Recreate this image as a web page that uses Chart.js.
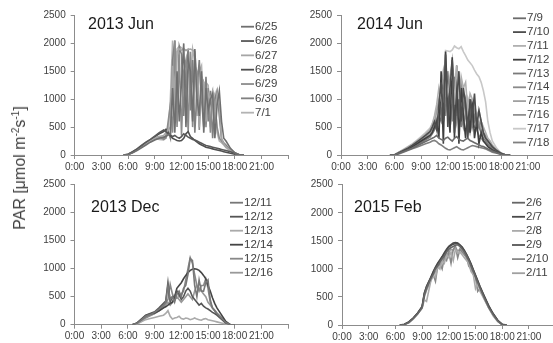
<!DOCTYPE html>
<html>
<head>
<meta charset="utf-8">
<script src="https://cdn.jsdelivr.net/npm/chart.js"></script>
<style>
html, body { margin: 0; padding: 0; background: #fff; overflow: hidden; width: 553px; height: 343px; }
canvas { position: absolute; }
#ylab {
    position: absolute; left: 20px; top: 168px;
    transform: translate(-50%, -50%) rotate(-90deg);
    white-space: nowrap; font: 16px "Liberation Sans", sans-serif; color: #404040;
}
#ylab sup { font-size: 10px; vertical-align: super; line-height: 0; }
</style>
</head>
<body>
<canvas id="c1" width="300" height="172" style="left:0;top:0"></canvas>
<canvas id="c2" width="260" height="172" style="left:300px;top:0"></canvas>
<canvas id="c3" width="300" height="173" style="left:0;top:170px"></canvas>
<canvas id="c4" width="260" height="173" style="left:300px;top:170px"></canvas>
<div id="ylab">PAR [μmol m<sup>-2</sup>s<sup>-1</sup>]</div>
<script>
// time of day in hours
const timesJun = [5.5, 6, 6.5, 7, 7.5, 8, 8.5, 9, 9.5, 10,
    10.25, 10.5, 10.75, 11, 11.25, 11.5, 11.75, 12, 12.25, 12.5, 12.75, 13, 13.25, 13.5,
    13.75, 14, 14.25, 14.5, 14.75, 15, 15.25, 15.5, 15.75, 16, 16.25, 16.5, 16.75, 17,
    17.5, 18, 18.5, 19];
const timesDec = [6.5, 7, 7.5, 8, 8.5, 9, 9.5, 10,
    10.25, 10.5, 10.75, 11, 11.25, 11.5, 11.75, 12, 12.25, 12.5, 12.75, 13, 13.25, 13.5,
    13.75, 14, 14.25, 14.5, 14.75, 15, 15.25, 15.5, 15.75, 16,
    16.5, 17, 17.5, 18];
const timesFeb = [6.5, 7, 7.5, 8, 8.5, 9, 9.25, 9.5,
    10, 10.25, 10.5, 10.75, 11, 11.25, 11.5, 11.75, 12, 12.25, 12.5, 12.75, 13, 13.25,
    13.5, 13.75, 14, 14.25, 14.5, 14.75, 15, 15.25, 15.5,
    16, 16.5, 17, 17.5, 18, 18.5];

const xTicks = [0, 3, 6, 9, 12, 15, 18, 21, 24];
const yTicks = [0, 500, 1000, 1500, 2000, 2500];

// 2013 Jun
const jun13Dates = ["6/25", "6/26", "6/27", "6/28", "6/29", "6/30", "7/1"];
const jun13Colors = ["#6f6f6f", "#595959", "#a6a6a6", "#4f4f4f", "#8c8c8c", "#808080", "#b3b3b3"];
const d0625 = [0, 8, 40, 80, 130, 180, 230, 270, 300, 320,
    330, 360, 380, 1200, 400, 1500, 600, 1300, 2000, 500, 1700, 1500, 600, 1900,
    1000, 700, 1500, 400, 1200, 800, 1000, 1100, 300, 900, 1150, 600, 300, 250,
    120, 40, 0, 0];
const d0626 = [0, 15, 60, 110, 170, 230, 280, 340, 400, 450,
    420, 380, 360, 330, 350, 320, 300, 330, 380, 350, 320, 300, 280, 270,
    250, 230, 210, 190, 170, 160, 150, 140, 130, 120, 110, 100, 90, 80,
    60, 30, 5, 0];
const d0627 = [0, 10, 40, 90, 140, 200, 250, 300, 330, 350,
    400, 450, 500, 1600, 700, 1850, 1900, 1880, 1900, 1870, 1890, 1900, 1880, 1850,
    1200, 500, 1400, 1300, 600, 1100, 1000, 1150, 600, 1100, 900, 300, 200, 150,
    80, 30, 0, 0];
const d0628 = [0, 10, 50, 100, 150, 210, 260, 330, 380, 420,
    460, 400, 350, 300, 280, 260, 250, 260, 300, 380, 420, 330, 300, 260,
    230, 200, 180, 160, 140, 130, 120, 110, 100, 90, 80, 70, 60, 50,
    30, 15, 0, 0];
const d0629 = [0, 15, 50, 100, 160, 220, 270, 310, 330, 280,
    300, 600, 900, 400, 2050, 500, 1800, 350, 1500, 1700, 400, 1850, 500, 1600,
    1500, 450, 1400, 1300, 500, 1200, 400, 1100, 900, 500, 300, 250, 200, 150,
    100, 40, 5, 0];
const d0630 = [0, 10, 45, 95, 150, 200, 240, 280, 320, 300,
    350, 420, 300, 1700, 2050, 600, 1950, 1800, 700, 1500, 1900, 800, 1700, 400,
    1200, 1700, 1000, 500, 1400, 600, 1150, 300, 1000, 1150, 700, 280, 220, 180,
    90, 30, 0, 0];
const d0701 = [0, 12, 55, 105, 165, 215, 265, 300, 280, 270,
    320, 380, 1000, 2050, 700, 1900, 1950, 1920, 1900, 1880, 1900, 1200, 1900, 1700,
    700, 1500, 1600, 800, 1300, 1250, 500, 1000, 1100, 400, 250, 220, 180, 130,
    70, 20, 0, 0];

// 2014 Jun
const jun14Dates = ["7/9", "7/10", "7/11", "7/12", "7/13", "7/14", "7/15", "7/16", "7/17", "7/18"];
const jun14Colors = ["#6b6b6b", "#4d4d4d", "#b0b0b0", "#3f3f3f", "#7a7a7a", "#8a8a8a", "#a0a0a0", "#909090", "#c8c8c8", "#7f7f7f"];
const d0709 = [0, 0, 30, 60, 90, 120, 160, 200, 240, 280,
    300, 320, 350, 300, 280, 260, 300, 320, 280, 250, 300, 330, 280, 260,
    250, 280, 300, 260, 240, 220, 200, 180, 160, 150, 130, 110, 90, 70,
    40, 15, 0, 0];
const d0710 = [0, 0, 40, 80, 120, 170, 230, 290, 350, 420,
    500, 600, 450, 900, 1300, 600, 1800, 500, 1200, 1700, 400, 1000, 1500, 600,
    1200, 900, 300, 1000, 700, 1100, 500, 800, 600, 400, 300, 250, 200, 150,
    80, 30, 0, 0];
const d0711 = [0, 0, 50, 90, 140, 190, 250, 310, 380, 460,
    550, 700, 900, 1200, 1000, 800, 1400, 1100, 1300, 1500, 900, 1600, 1000, 1400,
    1200, 1300, 800, 1100, 1000, 900, 700, 800, 600, 500, 400, 300, 250, 180,
    90, 30, 0, 0];
const d0712 = [0, 0, 35, 70, 110, 150, 200, 250, 300, 350,
    400, 500, 600, 300, 1500, 200, 1850, 900, 400, 1750, 300, 1600, 200, 1200,
    700, 300, 900, 400, 1000, 300, 600, 200, 400, 250, 200, 150, 120, 90,
    50, 20, 0, 0];
const d0713 = [0, 0, 30, 70, 100, 140, 180, 220, 270, 320,
    380, 450, 550, 700, 600, 1000, 800, 1200, 600, 900, 1400, 700, 1100, 500,
    800, 1000, 600, 900, 500, 700, 600, 500, 400, 300, 250, 200, 150, 110,
    60, 20, 0, 0];
const d0714 = [0, 0, 45, 85, 130, 180, 240, 300, 360, 420,
    480, 560, 650, 500, 1100, 1300, 700, 1500, 1000, 600, 1300, 1100, 800, 1200,
    900, 1000, 700, 800, 900, 600, 700, 500, 600, 400, 350, 280, 200, 140,
    70, 25, 0, 0];
const d0715 = [0, 0, 40, 80, 120, 160, 210, 260, 320, 390,
    450, 520, 800, 1000, 1200, 1500, 1100, 900, 1400, 1700, 1200, 800, 1000, 1300,
    1100, 700, 1000, 800, 600, 800, 500, 600, 450, 350, 300, 250, 200, 150,
    80, 30, 0, 0];
const d0716 = [0, 0, 35, 75, 110, 150, 190, 240, 290, 350,
    420, 480, 550, 650, 800, 600, 1000, 1200, 500, 800, 1100, 600, 900, 700,
    500, 800, 600, 400, 600, 500, 450, 350, 300, 250, 220, 180, 140, 100,
    50, 20, 0, 0];
const d0717 = [0, 0, 50, 100, 150, 200, 260, 330, 400, 480,
    560, 650, 800, 900, 1000, 1100, 1870, 1860, 1850, 1880, 1950, 1920, 1900, 1940,
    1850, 1780, 1700, 1650, 1600, 1520, 1450, 1400, 1300, 1150, 950, 600, 400, 250,
    120, 30, 0, 0];
const d0718 = [0, 0, 20, 50, 80, 110, 140, 170, 200, 230,
    250, 260, 240, 200, 180, 150, 120, 100, 90, 110, 130, 150, 120, 100,
    90, 110, 130, 150, 170, 160, 150, 140, 130, 120, 110, 90, 70, 50,
    30, 10, 0, 0];

// 2013 Dec
const dec13Dates = ["12/11", "12/12", "12/13", "12/14", "12/15", "12/16"];
const dec13Colors = ["#777777", "#555555", "#aaaaaa", "#444444", "#888888", "#999999"];
const d1211 = [0, 20, 80, 150, 180, 220, 280, 350,
    400, 700, 450, 500, 400, 550, 600, 500, 650, 700, 900, 1180, 1150, 700,
    500, 800, 600, 600, 750, 800, 450, 300, 250, 200,
    120, 40, 0, 0];
const d1212 = [0, 30, 100, 170, 200, 230, 300, 380,
    420, 750, 400, 500, 500, 600, 550, 450, 500, 600, 650, 600, 500, 450,
    400, 350, 380, 330, 300, 280, 250, 220, 200, 170,
    100, 30, 0, 0];
const d1213 = [0, 10, 50, 90, 110, 130, 150, 170,
    200, 250, 150, 100, 120, 130, 150, 110, 100, 120, 110, 90, 100, 120,
    100, 90, 80, 100, 110, 90, 80, 70, 60, 50,
    30, 10, 0, 0];
const d1214 = [0, 25, 90, 160, 190, 210, 250, 300,
    320, 350, 380, 400, 500, 650, 700, 750, 820, 880, 930, 970, 990, 1000,
    990, 970, 930, 880, 820, 700, 600, 480, 380, 300,
    180, 60, 0, 0];
const d1215 = [0, 20, 70, 130, 170, 200, 260, 330,
    380, 450, 720, 550, 450, 600, 500, 550, 600, 800, 1000, 1200, 1100, 900,
    700, 600, 700, 700, 820, 650, 400, 300, 260, 210,
    130, 40, 0, 0];
const d1216 = [0, 15, 60, 120, 160, 200, 250, 300,
    350, 400, 350, 400, 450, 500, 450, 400, 450, 500, 550, 500, 450, 600,
    700, 650, 600, 550, 500, 400, 350, 300, 250, 200,
    120, 35, 0, 0];

// 2015 Feb
const feb15Dates = ["2/6", "2/7", "2/8", "2/9", "2/10", "2/11"];
const feb15Colors = ["#666666", "#4a4a4a", "#aaaaaa", "#555555", "#888888", "#a0a0a0"];
const d0206 = [0, 10, 45, 115, 200, 310, 540, 660,
    830, 900, 1000, 1050, 1120, 1180, 1230, 1300, 1350, 1380, 1400, 1420, 1430, 1400,
    1350, 1300, 1230, 1150, 1050, 960, 860, 760, 660,
    480, 310, 180, 70, 5, 0];
const d0207 = [0, 12, 55, 125, 215, 330, 570, 690,
    860, 950, 1030, 1100, 1160, 1220, 1290, 1350, 1400, 1430, 1460, 1470, 1460, 1430,
    1390, 1330, 1260, 1180, 1090, 990, 890, 790, 690,
    510, 340, 195, 85, 12, 0];
const d0208 = [0, 8, 45, 110, 200, 300, 450, 420,
    800, 880, 850, 1050, 1000, 1150, 1100, 1250, 1200, 1300, 1150, 1350, 1280, 1300,
    1250, 1200, 1150, 1100, 950, 900, 650, 750, 600,
    450, 300, 170, 70, 5, 0];
const d0209 = [0, 10, 50, 120, 210, 320, 560, 680,
    850, 940, 1020, 1090, 1150, 1210, 1270, 1330, 1390, 1420, 1440, 1450, 1450, 1420,
    1380, 1320, 1250, 1170, 1080, 980, 880, 780, 680,
    500, 330, 190, 80, 10, 0];
const d0210 = [0, 10, 50, 115, 205, 315, 520, 640,
    820, 900, 780, 1050, 1100, 1000, 1200, 1150, 1300, 1100, 1350, 1400, 1200, 1350,
    1300, 1250, 1200, 1050, 1000, 900, 850, 600, 650,
    470, 310, 200, 75, 8, 0];
const d0211 = [0, 5, 40, 105, 195, 300, 500, 620,
    800, 880, 950, 1000, 1080, 1150, 1200, 1250, 1300, 1350, 1330, 1380, 1320, 1350,
    1300, 1280, 1200, 1120, 1040, 950, 840, 740, 650,
    470, 300, 160, 60, 5, 0];

const FONT = '"Liberation Sans", sans-serif';
const AXIS_GRAY = "#8c8c8c";
const TEXT_GRAY = "#404040";

// draws the panel title and the little legend inside the plot
const panelDecor = {
    id: 'panelDecor',
    afterDatasetsDraw(chart, args, o) {
        let ctx = chart.ctx;
        ctx.save();
        ctx.textBaseline = 'middle';
        ctx.fillStyle = "#1a1a1a";
        ctx.font = '16px ' + FONT;
        ctx.fillText(o.title, o.titleX, o.titleY);
        ctx.font = '11.5px ' + FONT;
        chart.data.datasets.forEach((ds, i) => {
            let y = o.legY + i * o.legStep;
            ctx.strokeStyle = ds.borderColor;
            ctx.lineWidth = 1.8;
            ctx.beginPath();
            ctx.moveTo(o.legX, y);
            ctx.lineTo(o.legX + 13, y);
            ctx.stroke();
            ctx.fillStyle = TEXT_GRAY;
            ctx.fillText(ds.label, o.legX + 14, y);
        });
        ctx.restore();
    }
};

function makePanel(id, times, dates, colors, series, cfg) {
    let datasets = series.map((vals, i) => ({
        label: dates[i],
        borderColor: colors[i],
        borderWidth: 1.6,
        pointRadius: 0,
        fill: false,
        tension: 0,
        data: vals.map((v, j) => ({ x: times[j], y: v }))
    }));
    let tickFont = { family: FONT, size: 10 };
    return new Chart(document.getElementById(id), {
        type: 'line',
        data: { datasets: datasets },
        plugins: [panelDecor],
        options: {
            responsive: false,
            animation: false,
            devicePixelRatio: 1,
            layout: { padding: { left: 0, top: cfg.top, right: cfg.right, bottom: 0 } },
            plugins: {
                legend: { display: false },
                tooltip: { enabled: false },
                panelDecor: cfg.decor
            },
            scales: {
                x: {
                    type: 'linear', min: 0, max: 24,
                    afterBuildTicks: s => { s.ticks = xTicks.map(v => ({ value: v })); },
                    afterFit: s => { s.height = cfg.xH; },
                    border: { display: true, color: AXIS_GRAY, width: 1 },
                    grid: { display: true, drawOnChartArea: false, drawTicks: true, tickLength: 4, color: AXIS_GRAY },
                    ticks: {
                        autoSkip: false, maxRotation: 0, minRotation: 0, padding: 2,
                        color: TEXT_GRAY, font: tickFont,
                        callback: v => v === 24 ? '' : v + ':00'
                    }
                },
                y: {
                    min: 0, max: 2500,
                    afterBuildTicks: s => { s.ticks = yTicks.map(v => ({ value: v })); },
                    afterFit: s => { s.width = cfg.yW; },
                    border: { display: true, color: AXIS_GRAY, width: 1 },
                    grid: { display: true, drawOnChartArea: false, drawTicks: true, tickLength: 4, color: AXIS_GRAY },
                    ticks: {
                        padding: 5, color: TEXT_GRAY, font: tickFont,
                        callback: v => String(v)
                    }
                }
            }
        }
    });
}

makePanel('c1', timesJun, jun13Dates, jun13Colors,
    [d0625, d0626, d0627, d0628, d0629, d0630, d0701],
    { top: 15.5, right: 11.7, xH: 17, yW: 74.7,
      decor: { title: "2013 Jun", titleX: 88, titleY: 25, legX: 241, legY: 26.7, legStep: 14.33 } });

makePanel('c2', timesJun, jun14Dates, jun14Colors,
    [d0709, d0710, d0711, d0712, d0713, d0714, d0715, d0716, d0717, d0718],
    { top: 15.3, right: 5.4, xH: 17, yW: 41,
      decor: { title: "2014 Jun", titleX: 57, titleY: 25, legX: 213, legY: 18.3, legStep: 13.8 } });

makePanel('c3', timesDec, dec13Dates, dec13Colors,
    [d1211, d1212, d1213, d1214, d1215, d1216],
    { top: 14.7, right: 11.9, xH: 18.3, yW: 74.5,
      decor: { title: "2013 Dec", titleX: 91, titleY: 38, legX: 230, legY: 32.7, legStep: 14 } });

makePanel('c4', timesFeb, feb15Dates, feb15Colors,
    [d0206, d0207, d0208, d0209, d0210, d0211],
    { top: 14.7, right: 4.4, xH: 18, yW: 42,
      decor: { title: "2015 Feb", titleX: 54, titleY: 38, legX: 212, legY: 32.7, legStep: 14.1 } });
</script>
</body>
</html>
